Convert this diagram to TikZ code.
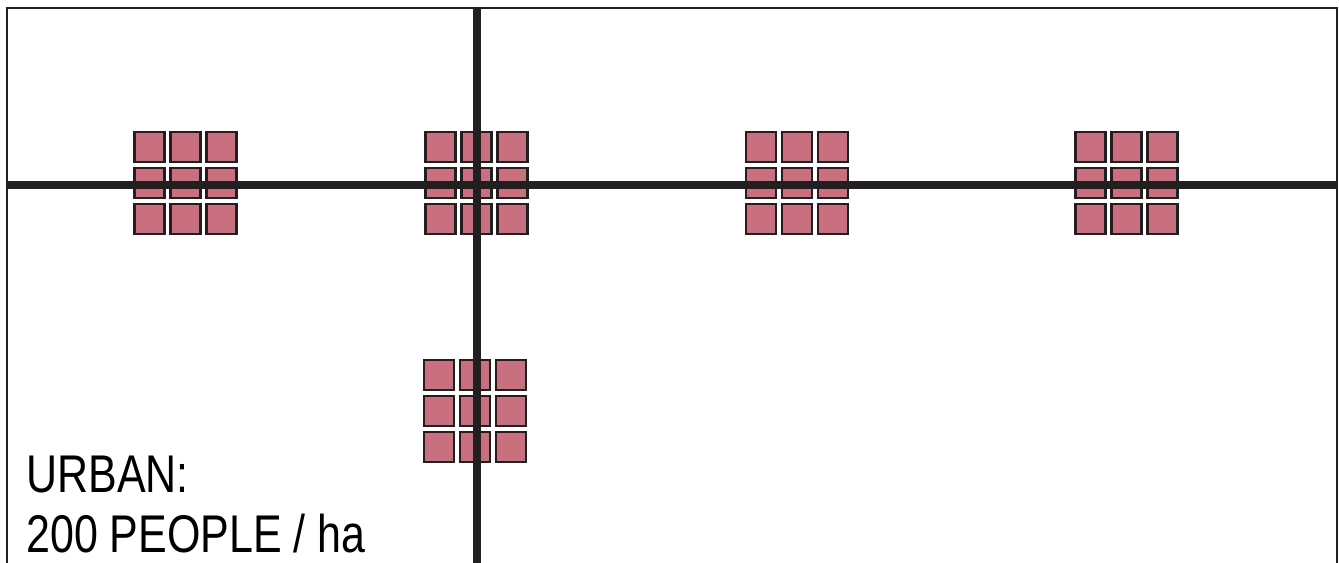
\documentclass[tikz,border=0pt]{standalone}
\usepackage{fontspec}
\setmainfont{Liberation Sans}[FakeStretch=0.81]
\usepackage{xcolor}
\usetikzlibrary{calc}
\definecolor{plotpink}{RGB}{201,111,128}
\definecolor{roadblack}{RGB}{35,31,32}

\begin{document}
\begin{tikzpicture}[x=0.02cm, y=-0.02cm,
    road/.style={line width=4pt, roadblack},
    frame/.style={line width=0.8pt, roadblack},
    plot/.style={rectangle, draw=roadblack, line width=1.2pt, fill=plotpink,
        minimum size=0.6cm, inner sep=0pt},
    label/.style={font=\fontsize{30.2}{36}\selectfont, anchor=base west, inner sep=0pt}
]
    \useasboundingbox (0,0) rectangle (1339,563);

    % frame, open at the bottom
    \draw[frame] (7,563) |- (1337,8) -- (1337,563);

    % blocks of 3x3 plots
    \foreach \name/\cx/\cy in {west/185.5/183, cross/476.5/183, mid/797/183,
                               east/1126.5/183, south/475/411} {
        \coordinate (\name) at (\cx,\cy);
        \foreach \i in {-1,0,1}
            \foreach \j in {-1,0,1}
                \node[plot] (\name-\i-\j) at ($(\name)+(36*\i,36*\j)$) {};
    }

    % roads
    \coordinate (roadW) at (7,185);
    \coordinate (roadE) at (1337,185);
    \coordinate (roadN) at (477,8);
    \coordinate (roadS) at (477,563);
    \draw[road] (roadW) -- (roadE);
    \draw[road] (roadN) -- (roadS);

    \node[label] (urban) at (26,493) {URBAN:};
    \node[label] (density) at (26,553) {200 PEOPLE / ha};
\end{tikzpicture}
\end{document}
